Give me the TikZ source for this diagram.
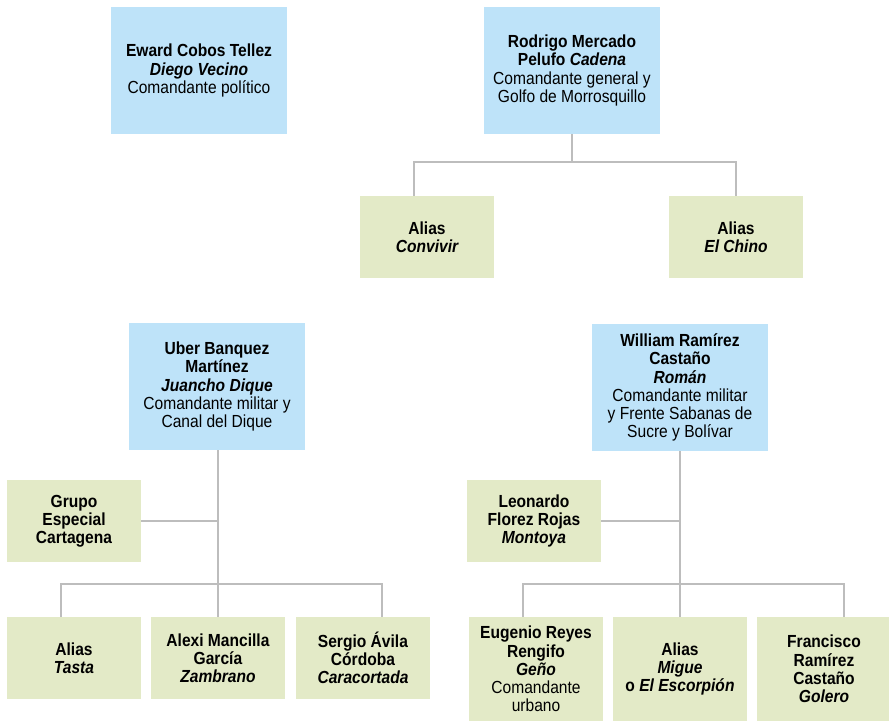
\documentclass[tikz,border=0pt]{standalone}
\usepackage{fontspec}
\setmainfont[FakeStretch=0.89]{Liberation Sans}
\definecolor{boxblue}{HTML}{BEE3F9}
\definecolor{boxgreen}{HTML}{E3EAC7}
\definecolor{linegray}{HTML}{BDBDBD}
\tikzset{
  basebox/.style={inner sep=0pt, align=center, font=\fontsize{17.5}{18.2}\selectfont, text=black},
  bluebox/.style={basebox, fill=boxblue, minimum width=176pt, minimum height=127pt},
  greenbox/.style={basebox, fill=boxgreen, minimum width=134pt, minimum height=82pt},
  tallbox/.style={basebox, fill=boxgreen, minimum width=134pt, minimum height=104pt},
  conn/.style={draw=linegray, line width=1.3pt}
}
\newcommand{\bi}[1]{{\bfseries\itshape #1}}
\begin{document}
\begin{tikzpicture}[x=1pt,y=-1pt]
\useasboundingbox (0,0) rectangle (889,721);
% top row
\node[bluebox] (eward) at (199,70.5) {\textbf{Eward Cobos Tellez}\\\bi{Diego Vecino}\\Comandante político};
\node[bluebox] (rodrigo) at (572,70.5) {\textbf{Rodrigo Mercado}\\\textbf{Pelufo} \bi{Cadena}\\Comandante general y\\Golfo de Morrosquillo};
\node[greenbox] (convivir) at (427,237) {\textbf{Alias}\\\bi{Convivir}};
\node[greenbox] (chino) at (736,237) {\textbf{Alias}\\\bi{El Chino}};
% middle
\node[bluebox] (uber) at (217,386.5) {\textbf{Uber Banquez}\\\textbf{Martínez}\\\bi{Juancho Dique}\\Comandante militar y\\Canal del Dique};
\node[bluebox] (william) at (680,387.5) {\textbf{William Ramírez}\\\textbf{Castaño}\\\bi{Román}\\Comandante militar\\y Frente Sabanas de\\Sucre y Bolívar};
\node[greenbox] (grupo) at (74,521) {\textbf{Grupo}\\\textbf{Especial}\\\textbf{Cartagena}};
\node[greenbox] (leonardo) at (534,521) {\textbf{Leonardo}\\\textbf{Florez Rojas}\\\bi{Montoya}};
% bottom left
\node[greenbox] (tasta) at (74,658) {\textbf{Alias}\\\bi{Tasta}};
\node[greenbox] (alexi) at (218,658) {\textbf{Alexi Mancilla}\\\textbf{García}\\\bi{Zambrano}};
\node[greenbox] (sergio) at (363,658) {\textbf{Sergio Ávila}\\\textbf{Córdoba}\\\bi{Caracortada}};
% bottom right
\node[tallbox] (eugenio) at (536,669) {\textbf{Eugenio Reyes}\\\textbf{Rengifo}\\\bi{Geño}\\Comandante\\urbano};
\node[tallbox] (migue) at (680,669) {\textbf{Alias}\\\bi{Migue}\\\textbf{o} \bi{El Escorpión}};
\node[tallbox] (francisco) at (824,669) {\textbf{Francisco}\\\textbf{Ramírez}\\\textbf{Castaño}\\\bi{Golero}};
% junctions
\coordinate (j1) at (572,162);
\coordinate (j2) at (218,584);
\coordinate (j3) at (680,584);
% connectors
\draw[conn] (rodrigo.south) -- (j1);
\draw[conn] ([xshift=-13pt]convivir.north) |- (j1) -| (chino.north);
\draw[conn] (uber.south -| alexi.north) -- (alexi.north);
\draw[conn] (grupo.east) -- (grupo.east -| alexi.north);
\draw[conn] ([xshift=-13pt]tasta.north) |- (j2) -| ([xshift=19pt]sergio.north);
\draw[conn] (william.south) -- (migue.north);
\draw[conn] (leonardo.east) -- (leonardo.east -| migue.north);
\draw[conn] ([xshift=-13pt]eugenio.north) |- (j3) -| ([xshift=20pt]francisco.north);
\end{tikzpicture}
\end{document}
